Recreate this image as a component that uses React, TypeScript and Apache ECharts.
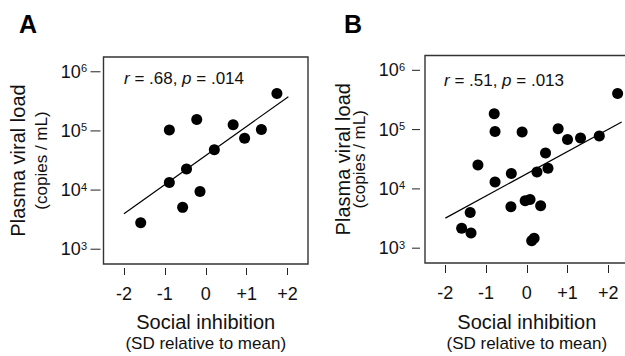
import React, { useEffect, useRef } from 'react';
import * as echarts from 'echarts';

// ---- data ----
const xTickValues = [-2, -1, 0, 1, 2];
const yTickValues = [1e3, 1e4, 1e5, 1e6];

// Panel A
const socialA = [-1.59, -0.89, -0.89, -0.47, -0.565, -0.22, -0.14, 0.21, 0.67, 0.95, 1.36, 1.74];
const viralA = [2790, 104000, 13400, 22800, 5100, 156000, 9500, 48000, 127000, 75000, 106000, 430000];
const fitAX = [-2, 2.02];
const fitAY = [3980, 380000];
const statsA = ['.68', '.014'];

// Panel B
const socialB = [-1.6, -1.37, -1.39, -1.2, -0.8, -0.78, -0.78, -0.39, -0.38, -0.115, -0.04, 0.08, 0.12, 0.18, 0.25, 0.34, 0.46, 0.52, 0.77, 1.0, 1.32, 1.78, 2.23];
const viralB = [2160, 1800, 4000, 25300, 185000, 93000, 13100, 5000, 18200, 91000, 6300, 6600, 1340, 1470, 19300, 5200, 40300, 22300, 103000, 68000, 72000, 78000, 406000];
const fitBX = [-2, 2.33];
const fitBY = [3210, 134000];
const statsB = ['.51', '.013'];

const panelLetters = ['A', 'B'];
const xTitle = ['Social inhibition', '(SD relative to mean)'];
const yTitle = ['Plasma viral load', '(copies / mL)'];

const FONT = '"Liberation Sans", Arial, Helvetica, sans-serif';
const INK = '#111';
const X_MIN = -2.5;
const X_MAX = 2.5;
const Y_MIN = 2.75; // log10 decades
const Y_MAX = 6.25;

// y is plotted on a log10 value axis (decades)
const pairs = (xs: number[], ys: number[]) => xs.map((x, i) => [x, Math.log10(ys[i])]);
const yTickExps = yTickValues.map((v) => Math.log10(v));

function makeX(gridIndex: number, offset: number, tickLen: number, margin: number, nameGap: number) {
  return {
    type: 'value',
    gridIndex,
    min: X_MIN,
    max: X_MAX,
    offset,
    axisLine: { show: false },
    axisTick: { show: true, length: tickLen, customValues: xTickValues, lineStyle: { color: '#222', width: 1 } },
    axisLabel: {
      customValues: xTickValues,
      margin,
      fontSize: 18,
      color: INK,
      fontFamily: FONT,
      formatter: (v: number) => (v > 0 ? `+${v}` : `${v}`),
    },
    splitLine: { show: false },
    name: `{m|${xTitle[0]}}\n{s|${xTitle[1]}}`,
    nameLocation: 'middle',
    nameGap,
    nameMoveOverlap: false,
    nameTextStyle: {
      rich: {
        m: { fontSize: 20, lineHeight: 25, fontFamily: FONT, color: INK },
        s: { fontSize: 17, lineHeight: 18, fontFamily: FONT, color: INK },
      },
    },
  };
}

function makeY(gridIndex: number, margin: number, nameGap: number, mainLH: number) {
  return {
    type: 'value',
    gridIndex,
    min: Y_MIN,
    max: Y_MAX,
    axisLine: { show: false },
    axisTick: { show: false },
    axisLabel: {
      customValues: yTickExps,
      margin,
      color: INK,
      fontFamily: FONT,
      formatter: (v: number) => `{b|10}{s|${Math.round(v)}}`,
      rich: {
        b: { fontSize: 18, lineHeight: 18, fontFamily: FONT, color: INK },
        s: { fontSize: 11, lineHeight: 11, fontFamily: FONT, color: INK, verticalAlign: 'top' },
      },
    },
    splitLine: { show: false },
    name: `{m|${yTitle[0]}}\n{s|${yTitle[1]}}`,
    nameLocation: 'middle',
    nameGap,
    nameMoveOverlap: false,
    nameTextStyle: {
      rich: {
        m: { fontSize: 20, lineHeight: mainLH, fontFamily: FONT, color: INK },
        s: { fontSize: 17, lineHeight: 18, fontFamily: FONT, color: INK },
      },
    },
  };
}

// y-axis tick marks, placed through the axis scale (gap from box, length)
function yTickSeries(index: number, gap: number, len: number) {
  return {
    type: 'custom',
    xAxisIndex: index,
    yAxisIndex: index,
    clip: false,
    silent: true,
    data: yTickExps.map((e) => [X_MIN, e]),
    renderItem: (_params: any, api: any) => {
      const p = api.coord([api.value(0), api.value(1)]);
      return {
        type: 'line',
        shape: { x1: p[0] - gap - len, y1: p[1], x2: p[0] - gap, y2: p[1] },
        style: { stroke: '#222', lineWidth: 1 },
      };
    },
  };
}

const statRich = {
  i: { fontSize: 17, fontStyle: 'italic', fontFamily: FONT, fill: INK },
  n: { fontSize: 17, fontFamily: FONT, fill: INK },
};

export default function App() {
  const ref = useRef<HTMLDivElement>(null);

  useEffect(() => {
    if (!ref.current) return;
    const chart = echarts.init(ref.current, undefined, { renderer: 'svg' });
    const option: any = {
      animation: false,
      backgroundColor: '#fff',
      textStyle: { fontFamily: FONT },
      grid: [
        { left: 103.5, top: 57, width: 204.5, height: 207, show: true, borderColor: '#333', borderWidth: 1.4, backgroundColor: 'transparent', outerBoundsMode: 'none', containLabel: false },
        { left: 425, top: 55.5, width: 203.6, height: 207.5, show: true, borderColor: '#333', borderWidth: 1.4, backgroundColor: 'transparent', outerBoundsMode: 'none', containLabel: false },
      ],
      xAxis: [makeX(0, 4, 7, 16.5, 41.5), makeX(1, 2, 8, 19, 44.5)],
      yAxis: [makeY(0, 16.5, 53.5, 28), makeY(1, 20, 56.5, 15)],
      series: [
        yTickSeries(0, 3, 10),
        yTickSeries(1, 5, 8),
        {
          type: 'scatter', xAxisIndex: 0, yAxisIndex: 0, data: pairs(socialA, viralA),
          symbol: 'circle', symbolSize: 11, itemStyle: { color: '#000', opacity: 1 },
        },
        {
          type: 'line', xAxisIndex: 0, yAxisIndex: 0, data: pairs(fitAX, fitAY),
          symbol: 'none', lineStyle: { color: '#000', width: 1.2 },
        },
        {
          type: 'scatter', xAxisIndex: 1, yAxisIndex: 1, data: pairs(socialB, viralB),
          symbol: 'circle', symbolSize: 11, itemStyle: { color: '#000', opacity: 1 },
        },
        {
          type: 'line', xAxisIndex: 1, yAxisIndex: 1, data: pairs(fitBX, fitBY),
          symbol: 'none', lineStyle: { color: '#000', width: 1.2 },
        },
      ],
      graphic: [
        { type: 'text', left: 19, top: 11, style: { text: panelLetters[0], font: `bold 25px ${FONT}`, fill: '#000' } },
        { type: 'text', left: 344, top: 11, style: { text: panelLetters[1], font: `bold 25px ${FONT}`, fill: '#000' } },
        {
          type: 'text', x: 124, y: 78.5,
          style: { text: `{i|r}{n| = ${statsA[0]}, }{i|p}{n| = ${statsA[1]}}`, rich: statRich, align: 'left', verticalAlign: 'middle' },
        },
        {
          type: 'text', x: 444, y: 80.5,
          style: { text: `{i|r}{n| = ${statsB[0]}, }{i|p}{n| = ${statsB[1]}}`, rich: statRich, align: 'left', verticalAlign: 'middle' },
        },
      ],
    };
    chart.setOption(option);
    return () => chart.dispose();
  }, []);

  return (
    <div
      ref={ref}
      style={{ position: 'fixed', left: 0, top: 0, width: 625, height: 356, background: '#fff' }}
    />
  );
}
